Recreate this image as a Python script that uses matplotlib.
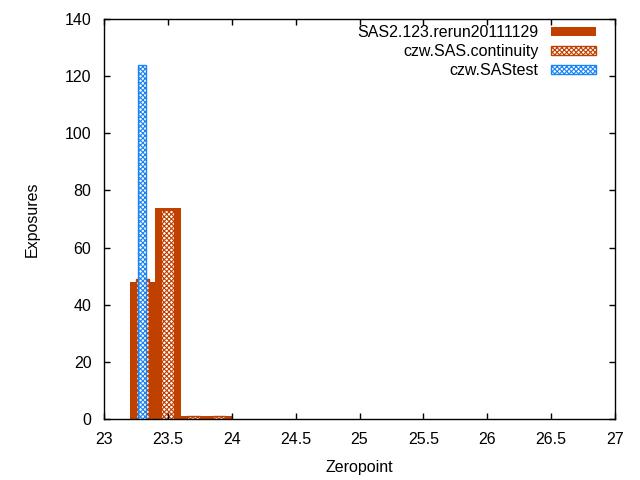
import numpy as np
import matplotlib
matplotlib.use("Agg")
import matplotlib.pyplot as plt

plt.rcParams['font.family'] = ['Liberation Sans', 'DejaVu Sans']
plt.rcParams['hatch.linewidth'] = 0.8

# histogram data
rerun_centers = [23.3, 23.5, 23.7, 23.9]
rerun_counts = [48, 74, 1, 1]
continuity_centers = [23.3, 23.5, 23.7, 23.9]
continuity_counts = [49, 73, 1, 1]
test_centers = [23.3]
test_counts = [124]

labels = ['SAS2.123.rerun20111129', 'czw.SAS.continuity', 'czw.SAStest']
orange = '#c04000'
blue = '#1a84f5'

fig = plt.figure(figsize=(6.4, 4.8), dpi=100)
ax = fig.add_axes([104/640, 1 - 419/480, 511/640, 400/480])

ax.bar(rerun_centers, rerun_counts, width=0.2, color=orange, linewidth=0,
       label=labels[0])
ax.bar(continuity_centers, continuity_counts, width=0.1, facecolor='white',
       edgecolor=orange, hatch='xxxxxxx', linewidth=1, label=labels[1])
ax.bar(test_centers, test_counts, width=0.06, facecolor='white',
       edgecolor=blue, hatch='xxxxxxx', linewidth=1, label=labels[2])

ax.set_xlim(23, 27)
ax.set_ylim(0, 140)
ax.set_xticks(np.arange(23, 27.01, 0.5))
ax.set_xticklabels(['23', '23.5', '24', '24.5', '25', '25.5', '26', '26.5', '27'])
ax.set_yticks(np.arange(0, 141, 20))
ax.tick_params(direction='in', length=4, width=1, top=True, right=True,
               labelsize=11.5, pad=9, colors='black')
for s in ax.spines.values():
    s.set_linewidth(1)

ax.set_xlabel('Zeropoint', fontsize=11.5, labelpad=10)
ax.set_ylabel('Exposures', fontsize=11.5, labelpad=18)

leg = ax.legend(loc='upper right', frameon=False, fontsize=11.5,
                markerfirst=False, handlelength=2.8, handleheight=0.5,
                labelspacing=0.25, handletextpad=0.8,
                borderaxespad=0.3, bbox_to_anchor=(0.985, 1.012))

fig.savefig('out.png', dpi=100)
